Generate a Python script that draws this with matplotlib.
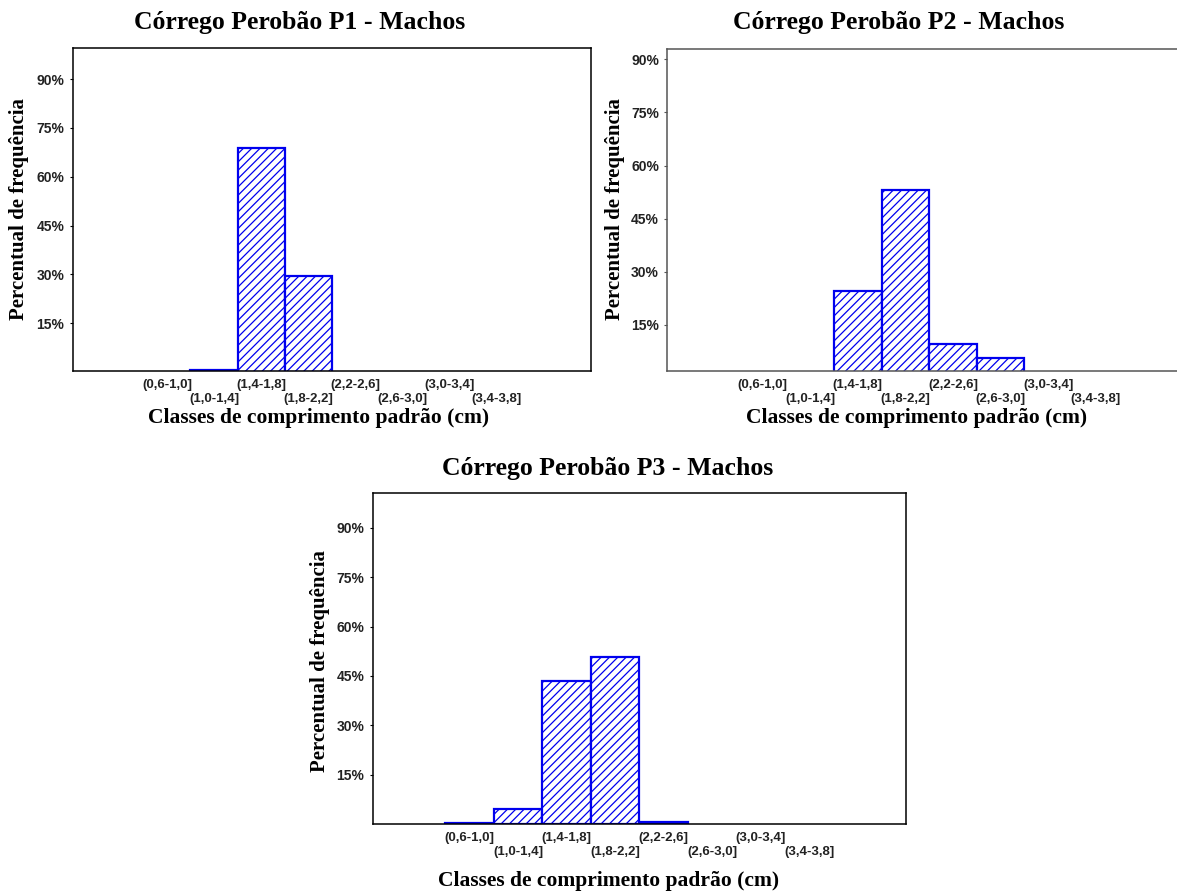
import matplotlib
matplotlib.use("Agg")
import matplotlib.pyplot as plt
import numpy as np

plt.rcParams['hatch.linewidth'] = 0.9

classes = ["(0,6-1,0]", "(1,0-1,4]", "(1,4-1,8]", "(1,8-2,2]",
           "(2,2-2,6]", "(2,6-3,0]", "(3,0-3,4]", "(3,4-3,8]"]
p1_values = [0.0, 0.6, 68.8, 29.6, 0.0, 0.0, 0.0, 0.0]
p2_values = [0.0, 0.0, 24.7, 53.1, 9.5, 5.7, 0.0, 0.0]
p3_values = [0.3, 4.6, 43.4, 50.9, 0.7, 0.0, 0.0, 0.0]
yticks = [15, 30, 45, 60, 75, 90]
titles = ["Córrego Perobão P1 - Machos", "Córrego Perobão P2 - Machos",
          "Córrego Perobão P3 - Machos"]
xlabel = "Classes de comprimento padrão (cm)"
ylabel = "Percentual de frequência"

W, H = 1177, 892
fig = plt.figure(figsize=(W / 100, H / 100), dpi=100)

def px_axes(l, r, t, b):
    return [l / W, 1 - b / H, (r - l) / W, (b - t) / H]

serif = "Liberation Serif"
sans = "Liberation Sans"

panels = [
    dict(vals=p1_values, box=(72.7, 591, 48.3, 371), ylim=(0.3, 99.5), spine="black",
         title=(300, 23), xl=(319, 418), yl=(19, 209)),
    dict(vals=p2_values, box=(667.4, 1191, 49, 370.7), ylim=(2.1, 92.9), spine="#555555",
         title=(899, 23), xl=(917, 418), yl=(615, 209)),
    dict(vals=p3_values, box=(372.7, 906, 493.3, 823.7), ylim=(0.2, 100.4), spine="black",
         title=(608, 469), xl=(609, 881), yl=(320, 661)),
]

x = np.arange(len(classes))
for i, p in enumerate(panels):
    ax = fig.add_axes(px_axes(*p["box"]))
    vals = np.array(p["vals"])
    nz = vals > 0
    ax.bar(x[nz], vals[nz], width=1.0, color="white", edgecolor="#0000EE",
           hatch="////", linewidth=1.6)
    ax.set_xlim(-2, 9)
    ax.set_ylim(*p["ylim"])
    ax.set_yticks(yticks)
    ax.set_yticklabels([f"{v}%" for v in yticks], fontfamily=sans,
                       fontweight="bold", fontsize=10, color="#222222")
    ax.set_xticks(x)
    ax.set_xticklabels([c if k % 2 == 0 else "\n" + c for k, c in enumerate(classes)],
                       fontfamily=sans, fontweight="bold", fontsize=9.5,
                       color="#222222", linespacing=1.2)
    ax.tick_params(axis="x", length=0, pad=6)
    ax.tick_params(axis="y", length=2, width=0.8, pad=4, color=p["spine"])
    for s in ax.spines.values():
        s.set_color(p["spine"])
        s.set_linewidth(1.1)
    tx, ty = p["title"]
    fig.text(tx / W, 1 - ty / H, titles[i], ha="center", va="center",
             fontfamily=serif, fontweight="bold", fontsize=18.5)
    xx, xy = p["xl"]
    fig.text(xx / W, 1 - xy / H, xlabel, ha="center", va="center",
             fontfamily=serif, fontweight="bold", fontsize=15.5)
    yx, yy = p["yl"]
    fig.text(yx / W, 1 - yy / H, ylabel, ha="center", va="center", rotation=90,
             fontfamily=serif, fontweight="bold", fontsize=15)

fig.savefig("out.png", dpi=100, facecolor="white")
